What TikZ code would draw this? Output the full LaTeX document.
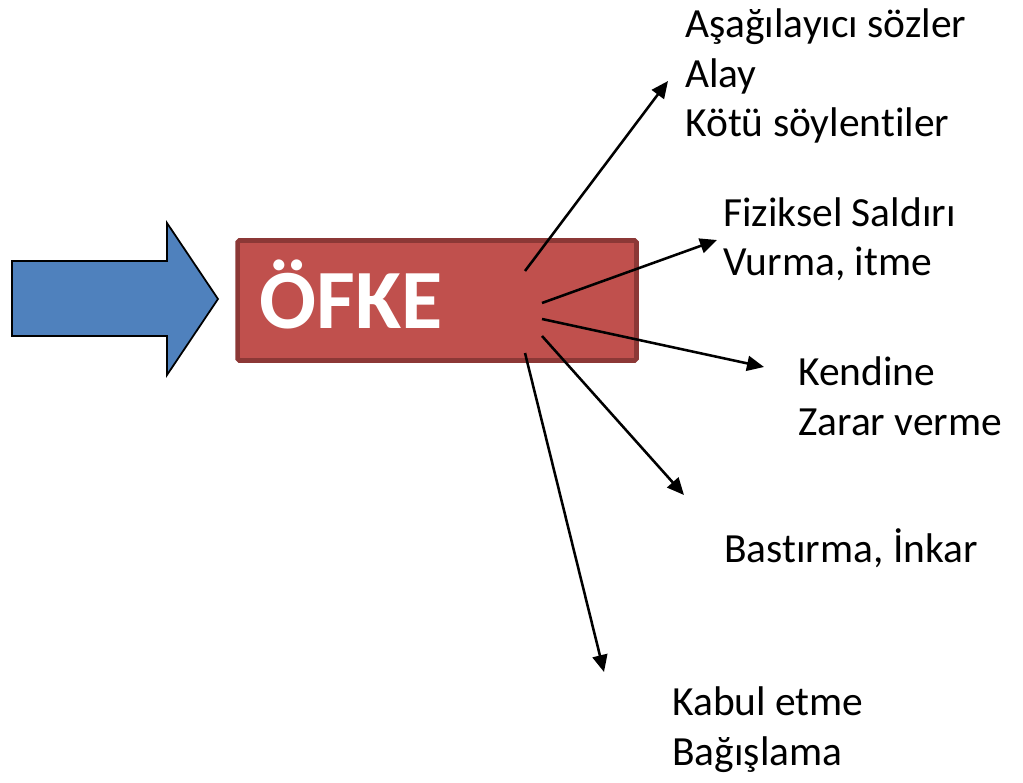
\documentclass[tikz,border=0pt]{standalone}
\usepackage{fontspec}
\setmainfont{Carlito}[RawFeature=-liga]
\usetikzlibrary{arrows.meta}
\definecolor{ofkered}{HTML}{C0504D}
\definecolor{ofkeborder}{HTML}{8C3836}
\definecolor{inblue}{HTML}{4F81BD}
\tikzset{
  box/.style={draw=ofkeborder, fill=ofkered, line width=2.6pt, rounded corners=1pt,
    minimum width=7.98cm, minimum height=2.4cm, inner sep=0pt},
  lbl/.style={anchor=base west, inner sep=0pt, align=left,
    font=\fontsize{23.6}{28.3}\selectfont},
  arr/.style={line width=1.45pt, -{Triangle[length=0.34cm,width=0.3cm]}}
}
\begin{document}
\begin{tikzpicture}[x=0.02cm,y=-0.02cm]
  \useasboundingbox (0,0) rectangle (1023,783);
  \draw[fill=inblue, line width=1pt] (12,261) -- (167,261) -- (167,223) -- (218,299)
    -- (167,375) -- (167,336) -- (12,336) -- cycle;
  \node[box] (ofke) at (437,300.5) {};
  \node[anchor=base west, inner sep=0pt, text=white,
    font=\fontsize{48}{58}\selectfont\bfseries] (ofkelbl) at (259,329) {ÖFKE};
  \node[lbl] (sozler) at (685,137) {Aşağılayıcı sözler\\Alay\\Kötü söylentiler};
  \node[lbl] (saldiri) at (723,276) {Fiziksel Saldırı\\Vurma, itme};
  \node[lbl] (zarar) at (798,435) {Kendine\\Zarar verme};
  \node[lbl] (inkar) at (724,562) {Bastırma, İnkar};
  \node[lbl] (kabul) at (672,765) {Kabul etme\\Bağışlama};
  \coordinate (s1) at (525,271);
  \coordinate (t1) at (668,81);
  \coordinate (s2) at (542,303);
  \coordinate (t2) at (717,240);
  \coordinate (s3) at (542,319);
  \coordinate (t3) at (764,367);
  \coordinate (s4) at (542,336);
  \coordinate (t4) at (684,495);
  \coordinate (s5) at (525,353);
  \coordinate (t5) at (604,672);
  \draw[arr] (s1) -- (t1);
  \draw[arr] (s2) -- (t2);
  \draw[arr] (s3) -- (t3);
  \draw[arr] (s4) -- (t4);
  \draw[arr] (s5) -- (t5);
\end{tikzpicture}
\end{document}
